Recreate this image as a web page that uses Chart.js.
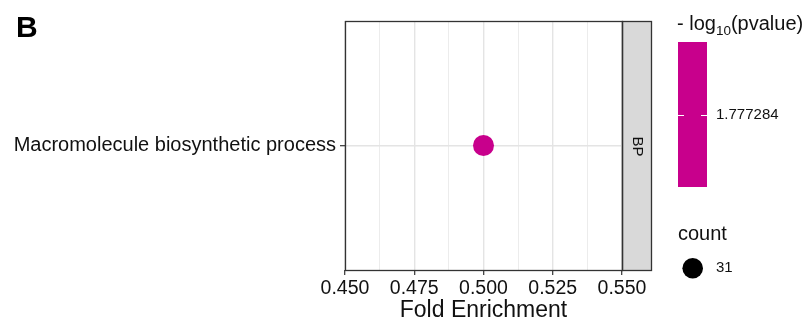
<!DOCTYPE html>
<html>
<head>
<meta charset="utf-8">
<script src="https://cdn.jsdelivr.net/npm/chart.js@4/dist/chart.umd.min.js"></script>
<style>
  html, body { margin: 0; padding: 0; background: #fff; }
  #wrap { width: 808px; height: 329px; position: relative; }
</style>
</head>
<body>
<div id="wrap"><canvas id="chart"></canvas></div>
<script>
// data
const terms = ["Macromolecule biosynthetic process"];
const foldEnrichment = [0.5];
const logPvalues = [1.777284];
const counts = [31];
const ontology = ["BP"];
const xTickValues = [0.450, 0.475, 0.500, 0.525, 0.550];

const FONT = "'Liberation Sans', Arial, Helvetica, sans-serif";
const MAGENTA = "#C8008C";
const INK = "#111111";

// panel frame, facet strip and the two legends, ggplot style
const decorPlugin = {
  id: "decor",
  afterDraw(chart) {
    const ctx = chart.ctx;
    const a = chart.chartArea;
    ctx.save();

    ctx.fillStyle = "#D9D9D9";
    ctx.fillRect(a.right, a.top, 29, a.bottom - a.top);
    ctx.strokeStyle = "#333333";
    ctx.lineWidth = 1.3;
    ctx.strokeRect(a.right + 0.5, a.top + 0.5, 29, a.bottom - a.top);
    ctx.strokeRect(a.left + 0.5, a.top + 0.5, a.right - a.left, a.bottom - a.top);

    ctx.save();
    ctx.translate(a.right + 15, (a.top + a.bottom) / 2 + 1);
    ctx.rotate(Math.PI / 2);
    ctx.fillStyle = INK;
    ctx.font = "15px " + FONT;
    ctx.textAlign = "center";
    ctx.textBaseline = "middle";
    ctx.fillText(ontology[0], 0, 0);
    ctx.restore();

    // panel tag
    ctx.fillStyle = "#000";
    ctx.font = "bold 30px " + FONT;
    ctx.textAlign = "left";
    ctx.textBaseline = "alphabetic";
    ctx.fillText("B", 16, 37);

    // colour bar title: - log10(pvalue)
    ctx.fillStyle = INK;
    ctx.font = "20px " + FONT;
    let x = 677;
    ctx.fillText("- log", x, 30);
    x += ctx.measureText("- log").width;
    ctx.font = "13.5px " + FONT;
    ctx.fillText("10", x, 35);
    x += ctx.measureText("10").width;
    ctx.font = "20px " + FONT;
    ctx.fillText("(pvalue)", x, 30);

    ctx.fillStyle = MAGENTA;
    ctx.fillRect(678, 42, 29, 145);
    ctx.strokeStyle = "#FFFFFF";
    ctx.lineWidth = 1;
    ctx.beginPath();
    ctx.moveTo(678, 115.5); ctx.lineTo(684, 115.5);
    ctx.moveTo(701, 115.5); ctx.lineTo(707, 115.5);
    ctx.stroke();

    ctx.fillStyle = INK;
    ctx.font = "15px " + FONT;
    ctx.textBaseline = "middle";
    ctx.fillText(String(logPvalues[0]), 716, 115);

    // size legend
    ctx.textBaseline = "alphabetic";
    ctx.font = "20px " + FONT;
    ctx.fillText("count", 678, 240);
    ctx.fillStyle = "#000";
    ctx.beginPath();
    ctx.arc(692.7, 268.3, 10.3, 0, Math.PI * 2);
    ctx.fill();
    ctx.fillStyle = INK;
    ctx.font = "15px " + FONT;
    ctx.textBaseline = "middle";
    ctx.fillText(String(counts[0]), 716, 268);

    ctx.restore();
  }
};

function buildXTicks(scale) {
  const ticks = [];
  xTickValues.forEach((v, i) => {
    ticks.push({ value: v, major: true });
    if (i < xTickValues.length - 1) {
      ticks.push({ value: (v + xTickValues[i + 1]) / 2, major: false });
    }
  });
  scale.ticks = ticks;
}

const isMajor = (c) => c.tick && c.tick.major;

new Chart(document.getElementById("chart"), {
  type: "scatter",
  data: {
    labels: terms,
    datasets: [{
      data: terms.map((t, i) => ({ x: foldEnrichment[i], y: t })),
      backgroundColor: MAGENTA,
      borderWidth: 0,
      pointRadius: 10.5,
      pointHoverRadius: 10.5
    }]
  },
  options: {
    responsive: true,
    maintainAspectRatio: false,
    animation: false,
    events: [],
    layout: { padding: { top: 21, right: 186, left: 0, bottom: 0 } },
    plugins: { legend: { display: false }, tooltip: { enabled: false } },
    scales: {
      x: {
        type: "linear",
        min: 0.45,
        max: 0.55,
        afterBuildTicks: buildXTicks,
        afterFit: (s) => { s.height = 59; },
        border: { display: false },
        grid: {
          color: (c) => isMajor(c) ? "#E4E4E4" : "#ECECEC",
          lineWidth: (c) => isMajor(c) ? 1.4 : 1,
          tickColor: (c) => isMajor(c) ? "#333333" : "rgba(0,0,0,0)",
          tickWidth: 1.2,
          tickLength: 5
        },
        ticks: {
          autoSkip: false,
          maxRotation: 0,
          padding: 2,
          color: INK,
          font: { family: FONT, size: 19.5 },
          callback: (val, i, ticks) => ticks[i].major ? val.toFixed(3) : ""
        },
        title: {
          display: true,
          text: "Fold Enrichment",
          color: INK,
          font: { family: FONT, size: 23 },
          padding: { top: 0, bottom: 5 }
        }
      },
      y: {
        type: "category",
        labels: terms,
        offset: true,
        afterFit: (s) => { s.width = 345; },
        border: { display: false },
        grid: {
          offset: false,
          color: "#E4E4E4",
          lineWidth: 1.4,
          tickColor: "#333333",
          tickWidth: 1.2,
          tickLength: 5
        },
        ticks: {
          padding: 4,
          color: INK,
          font: { family: FONT, size: 20 }
        }
      }
    }
  },
  plugins: [decorPlugin]
});
</script>
</body>
</html>
